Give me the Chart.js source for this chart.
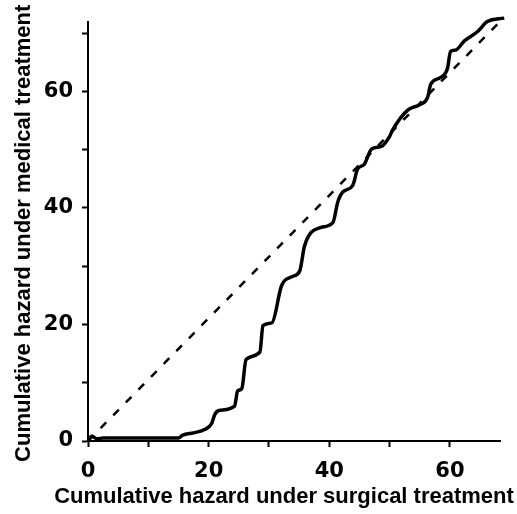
<!DOCTYPE html>
<html>
<head>
<meta charset="utf-8">
<script src="https://cdn.jsdelivr.net/npm/chart.js@4/dist/chart.umd.min.js"></script>
<style>
  html, body { margin: 0; padding: 0; background: #ffffff; }
  #wrap { width: 517px; height: 514px; }
</style>
</head>
<body>
<div id="wrap"><canvas id="c" width="517" height="514"></canvas></div>
<script>
// Cumulative hazard under surgical treatment (x) vs medical treatment (y)
const surgicalHazard = [0, 0.6, 1.5, 2.5, 15.0, 15.7, 17.5, 19.4, 20.5, 21.0, 21.6, 24.3, 24.8, 25.5, 26.2, 28.5, 29.0, 30.5, 32.1, 33.8, 35.1, 35.9, 38.4, 40.6, 41.4, 42.2, 43.9, 44.7, 45.8, 47.0, 48.7, 50.0, 50.5, 53.0, 55.1, 56.3, 56.8, 58.4, 59.6, 60.1, 60.9, 62.4, 64.6, 66.2, 69.0];
const medicalHazard  = [0, 0.8, 0.4, 0.5, 0.5, 1.0, 1.4, 2.0, 3.0, 4.5, 5.2, 6.0, 8.6, 9.0, 14.0, 15.3, 19.8, 20.3, 26.7, 28.2, 29.2, 33.5, 36.6, 37.5, 41.0, 42.7, 43.9, 46.7, 47.5, 50.1, 50.6, 52.3, 53.4, 56.8, 57.8, 59.0, 61.2, 62.4, 64.0, 66.9, 67.1, 68.7, 70.3, 72.0, 72.6];
// Reference line (equal hazards) from origin to top-right corner
const refX = [0, 68.3];
const refY = [0, 72];
const xTicks = [0, 20, 40, 60];
const yTicks = [0, 20, 40, 60];
const xLabel = "Cumulative hazard under surgical treatment";
const yLabel = "Cumulative hazard under medical treatment";

const curve = surgicalHazard.map((x, i) => ({ x: x, y: medicalHazard[i] }));
const ref = refX.map((x, i) => ({ x: x, y: refY[i] }));

const tickFont = { family: "'DejaVu Sans', sans-serif", weight: "bold", size: 21 };
const titleFontCss = "bold 22px 'Liberation Sans', Arial, sans-serif";

// Axis titles drawn as canvas text without horizontal compression
const axisTitles = {
  id: 'axisTitles',
  afterDraw(chart) {
    const ctx = chart.ctx;
    const ca = chart.chartArea;
    ctx.save();
    ctx.fillStyle = '#000';
    ctx.font = titleFontCss;
    ctx.textAlign = 'center';
    ctx.textBaseline = 'middle';
    ctx.fillText(xLabel, (ca.left + ca.right) / 2 - 10, 497);
    ctx.translate(24, (ca.top + ca.bottom) / 2 + 2);
    ctx.rotate(-Math.PI / 2);
    ctx.fillText(yLabel, 0, 0);
    ctx.restore();
  }
};

new Chart(document.getElementById('c'), {
  type: 'scatter',
  data: {
    datasets: [
      {
        data: ref,
        showLine: true,
        borderColor: '#000',
        borderWidth: 2.5,
        borderDash: [8, 10],
        pointRadius: 0,
        fill: false
      },
      {
        data: curve,
        showLine: true,
        borderColor: '#000',
        borderWidth: 3.5,
        pointRadius: 0,
        cubicInterpolationMode: 'monotone',
        fill: false,
        clip: false
      }
    ]
  },
  plugins: [axisTitles],
  options: {
    responsive: false,
    animation: false,
    devicePixelRatio: 1,
    layout: { padding: { left: 0, right: 17, top: 10, bottom: 0 } },
    plugins: { legend: { display: false }, tooltip: { enabled: false } },
    scales: {
      x: {
        type: 'linear',
        min: 0,
        max: 68.3,
        afterFit: (s) => { s.height = 73; },
        border: { display: true, color: '#000', width: 2 },
        grid: { drawOnChartArea: false, drawTicks: true, tickLength: 6, tickWidth: 2, tickColor: '#000' },
        ticks: {
          stepSize: 10,
          includeBounds: false,
          autoSkip: false,
          maxRotation: 0,
          padding: 12,
          color: '#000',
          font: tickFont,
          callback: (v) => xTicks.includes(v) ? String(v) : ''
        },
        title: { display: false }
      },
      y: {
        type: 'linear',
        min: 0,
        max: 72,
        afterFit: (s) => { s.width = 88; },
        border: { display: true, color: '#000', width: 2 },
        grid: { drawOnChartArea: false, drawTicks: true, tickLength: 6, tickWidth: 2, tickColor: '#000' },
        ticks: {
          stepSize: 10,
          includeBounds: false,
          autoSkip: false,
          padding: 9,
          color: '#000',
          font: tickFont,
          callback: (v) => yTicks.includes(v) ? String(v) : ''
        },
        title: { display: false }
      }
    }
  }
});
</script>
</body>
</html>
